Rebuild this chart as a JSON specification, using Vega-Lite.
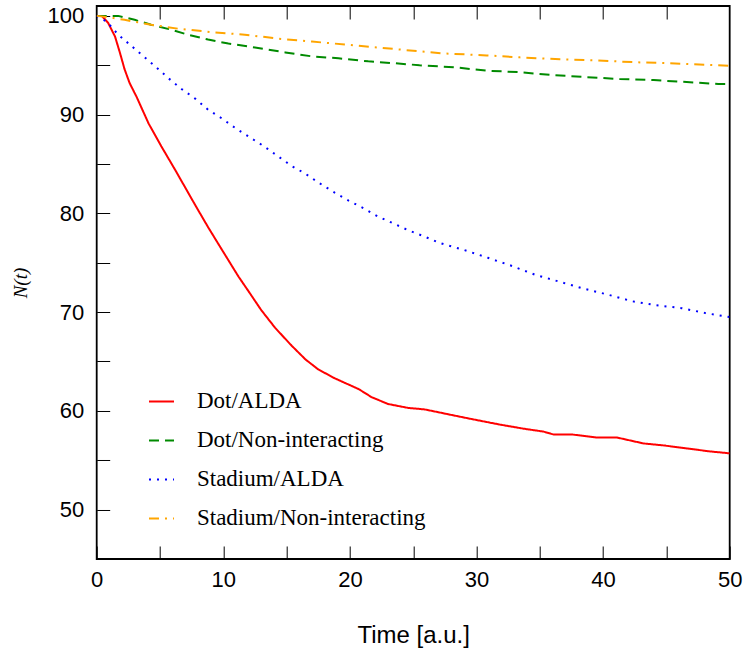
{
  "$schema": "https://vega.github.io/schema/vega-lite/v6.json",
  "width": 633,
  "height": 553,
  "autosize": {"type": "none"},
  "padding": {"left": 96.7, "top": 6, "right": 13, "bottom": 96},
  "background": "white",
  "config": {
    "view": {"stroke": "#000000", "strokeWidth": 1.8},
    "axis": {"grid": false, "domain": false, "tickColor": "#000000", "tickWidth": 1, "labelColor": "#000000", "titleColor": "#000000"},
    "legend": {
      "orient": "none", "legendX": 51.3, "legendY": 382, "title": null,
      "labelFont": "Liberation Serif", "labelFontSize": 23, "labelColor": "#000000", "labelLimit": 0,
      "symbolSize": 625, "symbolStrokeWidth": 2, "symbolType": "stroke",
      "labelOffset": 22, "rowPadding": 13, "padding": 0
    }
  },
  "data": {"values": [
    {"t": 0, "N": 100, "s": "Dot/ALDA"},
    {"t": 0.4, "N": 100, "s": "Dot/ALDA"},
    {"t": 0.9, "N": 99.3, "s": "Dot/ALDA"},
    {"t": 1.45, "N": 97.9, "s": "Dot/ALDA"},
    {"t": 1.85, "N": 96.2, "s": "Dot/ALDA"},
    {"t": 2.2, "N": 94.6, "s": "Dot/ALDA"},
    {"t": 2.6, "N": 93.2, "s": "Dot/ALDA"},
    {"t": 3.15, "N": 91.8, "s": "Dot/ALDA"},
    {"t": 4.1, "N": 89.1, "s": "Dot/ALDA"},
    {"t": 5.1, "N": 86.8, "s": "Dot/ALDA"},
    {"t": 6.2, "N": 84.4, "s": "Dot/ALDA"},
    {"t": 7.0, "N": 82.6, "s": "Dot/ALDA"},
    {"t": 7.8, "N": 80.8, "s": "Dot/ALDA"},
    {"t": 8.8, "N": 78.6, "s": "Dot/ALDA"},
    {"t": 9.9, "N": 76.3, "s": "Dot/ALDA"},
    {"t": 11.2, "N": 73.6, "s": "Dot/ALDA"},
    {"t": 12.0, "N": 72.1, "s": "Dot/ALDA"},
    {"t": 13.0, "N": 70.2, "s": "Dot/ALDA"},
    {"t": 14.1, "N": 68.4, "s": "Dot/ALDA"},
    {"t": 15.4, "N": 66.6, "s": "Dot/ALDA"},
    {"t": 16.5, "N": 65.2, "s": "Dot/ALDA"},
    {"t": 17.5, "N": 64.2, "s": "Dot/ALDA"},
    {"t": 18.8, "N": 63.3, "s": "Dot/ALDA"},
    {"t": 20.7, "N": 62.2, "s": "Dot/ALDA"},
    {"t": 21.7, "N": 61.4, "s": "Dot/ALDA"},
    {"t": 23.0, "N": 60.7, "s": "Dot/ALDA"},
    {"t": 24.6, "N": 60.3, "s": "Dot/ALDA"},
    {"t": 25.9, "N": 60.15, "s": "Dot/ALDA"},
    {"t": 27.6, "N": 59.7, "s": "Dot/ALDA"},
    {"t": 29.5, "N": 59.2, "s": "Dot/ALDA"},
    {"t": 31.9, "N": 58.6, "s": "Dot/ALDA"},
    {"t": 33.7, "N": 58.2, "s": "Dot/ALDA"},
    {"t": 35.3, "N": 57.9, "s": "Dot/ALDA"},
    {"t": 36.1, "N": 57.6, "s": "Dot/ALDA"},
    {"t": 37.6, "N": 57.6, "s": "Dot/ALDA"},
    {"t": 39.5, "N": 57.3, "s": "Dot/ALDA"},
    {"t": 41.1, "N": 57.3, "s": "Dot/ALDA"},
    {"t": 43.2, "N": 56.7, "s": "Dot/ALDA"},
    {"t": 44.8, "N": 56.5, "s": "Dot/ALDA"},
    {"t": 46.6, "N": 56.2, "s": "Dot/ALDA"},
    {"t": 48.4, "N": 55.9, "s": "Dot/ALDA"},
    {"t": 50, "N": 55.7, "s": "Dot/ALDA"},

    {"t": 0, "N": 100, "s": "Dot/Non-interacting"},
    {"t": 1.7, "N": 100, "s": "Dot/Non-interacting"},
    {"t": 3.0, "N": 99.6, "s": "Dot/Non-interacting"},
    {"t": 4.3, "N": 99.1, "s": "Dot/Non-interacting"},
    {"t": 5.9, "N": 98.6, "s": "Dot/Non-interacting"},
    {"t": 7.2, "N": 98.1, "s": "Dot/Non-interacting"},
    {"t": 8.8, "N": 97.6, "s": "Dot/Non-interacting"},
    {"t": 10.4, "N": 97.2, "s": "Dot/Non-interacting"},
    {"t": 12.5, "N": 96.8, "s": "Dot/Non-interacting"},
    {"t": 14.9, "N": 96.3, "s": "Dot/Non-interacting"},
    {"t": 17.0, "N": 95.9, "s": "Dot/Non-interacting"},
    {"t": 19.1, "N": 95.7, "s": "Dot/Non-interacting"},
    {"t": 21.45, "N": 95.4, "s": "Dot/Non-interacting"},
    {"t": 23.6, "N": 95.2, "s": "Dot/Non-interacting"},
    {"t": 25.5, "N": 95.0, "s": "Dot/Non-interacting"},
    {"t": 28.2, "N": 94.8, "s": "Dot/Non-interacting"},
    {"t": 30.8, "N": 94.45, "s": "Dot/Non-interacting"},
    {"t": 33.4, "N": 94.3, "s": "Dot/Non-interacting"},
    {"t": 36.1, "N": 94.0, "s": "Dot/Non-interacting"},
    {"t": 38.7, "N": 93.8, "s": "Dot/Non-interacting"},
    {"t": 41.3, "N": 93.6, "s": "Dot/Non-interacting"},
    {"t": 44.0, "N": 93.5, "s": "Dot/Non-interacting"},
    {"t": 46.6, "N": 93.3, "s": "Dot/Non-interacting"},
    {"t": 49.1, "N": 93.1, "s": "Dot/Non-interacting"},
    {"t": 50, "N": 93.1, "s": "Dot/Non-interacting"},

    {"t": 0, "N": 100, "s": "Stadium/ALDA"},
    {"t": 0.8, "N": 99.4, "s": "Stadium/ALDA"},
    {"t": 1.7, "N": 98.1, "s": "Stadium/ALDA"},
    {"t": 2.7, "N": 97.0, "s": "Stadium/ALDA"},
    {"t": 3.7, "N": 95.9, "s": "Stadium/ALDA"},
    {"t": 4.7, "N": 94.8, "s": "Stadium/ALDA"},
    {"t": 5.7, "N": 93.65, "s": "Stadium/ALDA"},
    {"t": 6.7, "N": 92.6, "s": "Stadium/ALDA"},
    {"t": 7.8, "N": 91.6, "s": "Stadium/ALDA"},
    {"t": 8.8, "N": 90.5, "s": "Stadium/ALDA"},
    {"t": 9.9, "N": 89.6, "s": "Stadium/ALDA"},
    {"t": 11.0, "N": 88.6, "s": "Stadium/ALDA"},
    {"t": 12.1, "N": 87.7, "s": "Stadium/ALDA"},
    {"t": 13.2, "N": 86.8, "s": "Stadium/ALDA"},
    {"t": 14.3, "N": 85.8, "s": "Stadium/ALDA"},
    {"t": 15.4, "N": 84.8, "s": "Stadium/ALDA"},
    {"t": 16.5, "N": 84.0, "s": "Stadium/ALDA"},
    {"t": 17.6, "N": 83.05, "s": "Stadium/ALDA"},
    {"t": 18.8, "N": 82.1, "s": "Stadium/ALDA"},
    {"t": 19.9, "N": 81.3, "s": "Stadium/ALDA"},
    {"t": 21.1, "N": 80.5, "s": "Stadium/ALDA"},
    {"t": 22.2, "N": 79.7, "s": "Stadium/ALDA"},
    {"t": 23.4, "N": 79.0, "s": "Stadium/ALDA"},
    {"t": 24.6, "N": 78.3, "s": "Stadium/ALDA"},
    {"t": 25.8, "N": 77.7, "s": "Stadium/ALDA"},
    {"t": 27.1, "N": 77.0, "s": "Stadium/ALDA"},
    {"t": 29.0, "N": 76.3, "s": "Stadium/ALDA"},
    {"t": 30.9, "N": 75.5, "s": "Stadium/ALDA"},
    {"t": 32.75, "N": 74.7, "s": "Stadium/ALDA"},
    {"t": 34.6, "N": 73.8, "s": "Stadium/ALDA"},
    {"t": 36.5, "N": 73.1, "s": "Stadium/ALDA"},
    {"t": 38.4, "N": 72.4, "s": "Stadium/ALDA"},
    {"t": 40.3, "N": 71.8, "s": "Stadium/ALDA"},
    {"t": 42.3, "N": 71.1, "s": "Stadium/ALDA"},
    {"t": 44.2, "N": 70.7, "s": "Stadium/ALDA"},
    {"t": 46.2, "N": 70.4, "s": "Stadium/ALDA"},
    {"t": 48.1, "N": 69.9, "s": "Stadium/ALDA"},
    {"t": 50, "N": 69.5, "s": "Stadium/ALDA"},

    {"t": 0, "N": 100, "s": "Stadium/Non-interacting"},
    {"t": 1.0, "N": 99.85, "s": "Stadium/Non-interacting"},
    {"t": 2.2, "N": 99.6, "s": "Stadium/Non-interacting"},
    {"t": 4.3, "N": 99.1, "s": "Stadium/Non-interacting"},
    {"t": 6.45, "N": 98.7, "s": "Stadium/Non-interacting"},
    {"t": 9.1, "N": 98.35, "s": "Stadium/Non-interacting"},
    {"t": 11.7, "N": 98.1, "s": "Stadium/Non-interacting"},
    {"t": 14.3, "N": 97.7, "s": "Stadium/Non-interacting"},
    {"t": 17.0, "N": 97.4, "s": "Stadium/Non-interacting"},
    {"t": 19.6, "N": 97.1, "s": "Stadium/Non-interacting"},
    {"t": 22.2, "N": 96.8, "s": "Stadium/Non-interacting"},
    {"t": 24.75, "N": 96.5, "s": "Stadium/Non-interacting"},
    {"t": 27.4, "N": 96.2, "s": "Stadium/Non-interacting"},
    {"t": 30.8, "N": 96.0, "s": "Stadium/Non-interacting"},
    {"t": 33.4, "N": 95.8, "s": "Stadium/Non-interacting"},
    {"t": 36.6, "N": 95.6, "s": "Stadium/Non-interacting"},
    {"t": 39.2, "N": 95.5, "s": "Stadium/Non-interacting"},
    {"t": 42.65, "N": 95.3, "s": "Stadium/Non-interacting"},
    {"t": 45.3, "N": 95.2, "s": "Stadium/Non-interacting"},
    {"t": 49.0, "N": 95.0, "s": "Stadium/Non-interacting"},
    {"t": 50, "N": 94.95, "s": "Stadium/Non-interacting"}
  ]},
  "layer": [
    {
      "mark": {"type": "line", "strokeWidth": 2, "clip": true},
      "encoding": {
        "x": {
          "field": "t", "type": "quantitative",
          "scale": {"domain": [0, 50], "nice": false, "zero": false},
          "axis": {
            "orient": "bottom",
            "values": [0, 5, 10, 15, 20, 25, 30, 35, 40, 45, 50],
            "labelExpr": "datum.value % 10 === 0 ? datum.label : ''",
            "labelFont": "Liberation Sans", "labelFontSize": 22, "labelPadding": 24,
            "labelFlush": false, "labelOverlap": false,
            "tickSize": -13,
            "encode": {"ticks": {"update": {"y2": {"signal": "datum.value % 10 === 0 ? -13 : -6"}}}},
            "title": "Time [a.u.]", "titleFont": "Liberation Sans", "titleFontSize": 24,
            "titleFontWeight": "normal", "titlePadding": 33
          }
        },
        "y": {
          "field": "N", "type": "quantitative",
          "scale": {"domain": [45, 101], "nice": false, "zero": false},
          "axis": {
            "values": [50, 55, 60, 65, 70, 75, 80, 85, 90, 95, 100],
            "labelExpr": "datum.value % 10 === 0 ? datum.label : ''",
            "labelFont": "Liberation Sans", "labelFontSize": 22, "labelPadding": 26,
            "labelFlush": false, "labelOverlap": false,
            "tickSize": -13,
            "encode": {"ticks": {"update": {"x2": {"signal": "datum.value % 10 === 0 ? 13 : 6"}}}},
            "title": "N(t)", "titleFont": "Liberation Serif", "titleFontSize": 19,
            "titleFontStyle": "italic", "titleFontWeight": "normal", "titlePadding": 16
          }
        },
        "color": {
          "field": "s", "type": "nominal",
          "scale": {
            "domain": ["Dot/ALDA", "Dot/Non-interacting", "Stadium/ALDA", "Stadium/Non-interacting"],
            "range": ["#ff0000", "#008a00", "#0000ff", "#ffa500"]
          }
        },
        "strokeDash": {
          "field": "s", "type": "nominal",
          "scale": {
            "domain": ["Dot/ALDA", "Dot/Non-interacting", "Stadium/ALDA", "Stadium/Non-interacting"],
            "range": [[1, 0], [10, 6], [2, 6], [10, 6, 2, 6]]
          }
        }
      }
    },
    {
      "mark": {"type": "rule", "strokeOpacity": 0},
      "encoding": {
        "x": {
          "field": "t", "type": "quantitative",
          "axis": {
            "orient": "top",
            "values": [5, 10, 15, 20, 25, 30, 35, 40, 45],
            "labels": false, "title": null,
            "tickSize": -13,
            "encode": {"ticks": {"update": {"y2": {"signal": "datum.value % 10 === 0 ? 13 : 6"}}}}
          }
        }
      }
    }
  ],
  "resolve": {"axis": {"x": "independent"}}
}
